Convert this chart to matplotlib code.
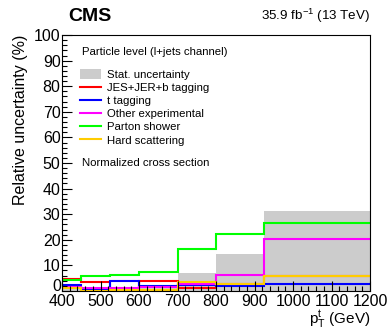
import numpy as np
import matplotlib.pyplot as plt
from matplotlib.patches import Patch
from matplotlib.lines import Line2D
from matplotlib.ticker import MultipleLocator, FuncFormatter

plt.rcParams['font.family'] = ['Liberation Sans', 'DejaVu Sans']

# bin edges in pT (GeV)
edges = [400, 450, 525, 600, 700, 800, 925, 1200]

# relative uncertainties (%) per bin
stat = [1.5, 1.2, 1.2, 1.5, 6.9, 14.3, 31.4]
jes = [4.6, 3.6, 0.4, 4.0, 1.2, 2.8, 6.0]
ttag = [2.3, 0.7, 4.0, 2.0, 2.2, 2.0, 2.6]
other = [1.5, 1.0, 1.0, 1.6, 2.6, 6.4, 20.4]
parton = [4.2, 5.7, 6.1, 7.6, 16.4, 22.2, 26.4]
hard = [1.0, 0.1, 0.3, 0.5, 3.4, 2.8, 5.7]

fig = plt.figure(figsize=(3.9, 3.31), dpi=100)
ax = fig.add_axes([0.159, 0.121, 0.79, 0.773])

ax.stairs(stat, edges, fill=True, color='#cccccc', lw=0)
lw = 1.5
ax.stairs(jes, edges, color='#ff0000', lw=lw, baseline=None)
ax.stairs(ttag, edges, color='#0000ff', lw=lw, baseline=None)
ax.stairs(other, edges, color='#ff00ff', lw=lw, baseline=None)
ax.stairs(parton, edges, color='#00ff00', lw=lw, baseline=None)
ax.stairs(hard, edges, color='#ffcc00', lw=lw, baseline=None)

ax.set_xlim(400, 1200)
ax.set_ylim(0, 100)
ax.xaxis.set_major_locator(MultipleLocator(100))
ax.xaxis.set_minor_locator(MultipleLocator(20))
ax.yaxis.set_major_locator(MultipleLocator(10))
ax.yaxis.set_minor_locator(MultipleLocator(2))
# the "0" is placed by hand a touch higher so it clears "400"
ax.yaxis.set_major_formatter(FuncFormatter(lambda v, p: '' if v == 0 else f'{v:.0f}'))
ax.tick_params(which='both', direction='in', labelsize=11.5)
ax.tick_params(axis='x', pad=2)
ax.tick_params(axis='y', pad=1)
ax.tick_params(which='major', length=7, width=0.8)
ax.tick_params(which='minor', length=3.5, width=0.8)
for s in ax.spines.values():
    s.set_linewidth(0.8)
ax.text(-0.004, 0.018, '0', transform=ax.transAxes, fontsize=11.5,
        ha='right', va='center')

ax.set_ylabel('Relative uncertainty (%)', fontsize=11.5, loc='top', labelpad=4)
ax.set_xlabel(r'$\mathregular{p_{T}^{t}}$ (GeV)', fontsize=11, loc='right', labelpad=0)

fig.text(0.175, 0.925, 'CMS', fontsize=14, fontweight='bold', ha='left', va='bottom')
fig.text(0.95, 0.925, r'35.9 fb$\mathregular{^{-1}}$ (13 TeV)', fontsize=9.6,
         ha='right', va='bottom')

ax.text(0.065, 0.955, 'Particle level (l+jets channel)', transform=ax.transAxes,
        fontsize=8.2, va='top')
ax.text(0.065, 0.50, 'Normalized cross section', transform=ax.transAxes,
        fontsize=8.2, va='center')

handles = [
    Patch(facecolor='#cccccc', edgecolor='none'),
    Line2D([], [], color='#ff0000', lw=lw),
    Line2D([], [], color='#0000ff', lw=lw),
    Line2D([], [], color='#ff00ff', lw=lw),
    Line2D([], [], color='#00ff00', lw=lw),
    Line2D([], [], color='#ffcc00', lw=lw),
]
labels = ['Stat. uncertainty', 'JES+JER+b tagging', 't tagging',
          'Other experimental', 'Parton shower', 'Hard scattering']
ax.legend(handles, labels, loc='upper left', bbox_to_anchor=(0.045, 0.885),
          frameon=False, fontsize=8.2, handlelength=1.8, handleheight=0.9,
          handletextpad=0.5, labelspacing=0.22, borderaxespad=0)

fig.savefig('out.png', dpi=100)
